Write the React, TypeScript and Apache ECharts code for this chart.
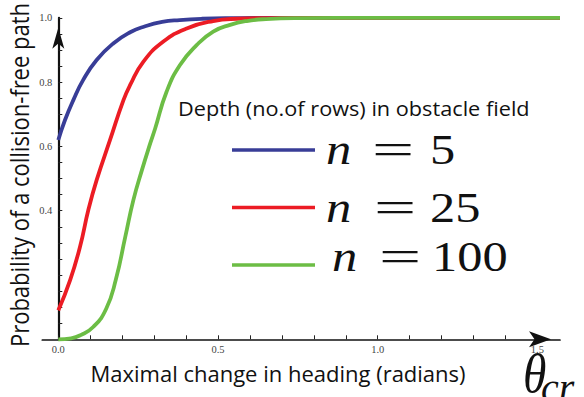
import React, { useEffect, useRef } from "react";
import * as echarts from "echarts";

// ---- data ----
const seriesNames = ["n = 5", "n = 25", "n = 100"];
const seriesValuesOfN = ["5", "25", "100"];
const seriesColors = ["#383d97", "#ec1c24", "#6cbd45"];

const xN5 = [0, 0.021, 0.047, 0.078, 0.12, 0.173, 0.225, 0.27, 0.325, 0.38, 0.45, 0.55, 0.7, 1.0, 1.5708];
const yN5 = [0.62, 0.682, 0.744, 0.807, 0.869, 0.921, 0.955, 0.973, 0.987, 0.993, 0.997, 0.999, 1, 1, 1];

const xN25 = [0, 0.037, 0.068, 0.094, 0.12, 0.162, 0.204, 0.225, 0.266, 0.329, 0.402, 0.485, 0.56, 0.65, 0.8, 1.0, 1.5708];
const yN25 = [0.09, 0.184, 0.288, 0.402, 0.495, 0.62, 0.744, 0.791, 0.863, 0.926, 0.967, 0.99, 0.997, 0.999, 1, 1, 1];

const xN100 = [0, 0.04, 0.07, 0.11, 0.15, 0.18, 0.21, 0.235, 0.262, 0.288, 0.303, 0.339, 0.381, 0.433, 0.485, 0.538, 0.59, 0.65, 0.75, 1.0, 1.5708];
const yN100 = [0, 0.003, 0.013, 0.039, 0.095, 0.185, 0.32, 0.433, 0.527, 0.61, 0.655, 0.77, 0.853, 0.915, 0.957, 0.978, 0.99, 0.996, 0.999, 1, 1];

const xTickValues = [0, 0.1, 0.2, 0.3, 0.4, 0.5, 0.6, 0.7, 0.8, 0.9, 1.0, 1.1, 1.2, 1.3, 1.4, 1.5];
const xLabelValues = [0, 0.5, 1.0, 1.5];
const yTickValues = [0, 0.05, 0.1, 0.15, 0.2, 0.25, 0.3, 0.35, 0.4, 0.45, 0.5, 0.55, 0.6, 0.65, 0.7, 0.75, 0.8, 0.85, 0.9, 0.95, 1.0];
const yLabelValues = [0.4, 0.6, 0.8, 1.0];

const xTitle = "Maximal change in heading (radians)";
const yTitle = "Probability of a collision-free path";
const legendTitle = "Depth (no.of rows) in obstacle field";

const xs = [xN5, xN25, xN100];
const ys = [yN5, yN25, yN100];

// legend label layout (baselines and x starts of the math text pieces)
const labelBaselines = [164, 222, 271];
const labelNX = [326, 326, 332];
const labelEqX = [372, 374, 379];
const labelNumX = [430, 430, 432];

export default function App() {
  const ref = useRef<HTMLDivElement>(null);
  useEffect(() => {
    if (!ref.current) return;
    const chart = echarts.init(ref.current, undefined, { renderer: "svg" });
    const sans = "Open Sans";
    const serif = "Liberation Serif";
    const mid = (baseline: number, fs: number) => baseline - 0.3375 * fs;

    const mathTexts: any[] = [];
    seriesValuesOfN.forEach((num, i) => {
      mathTexts.push({
        type: "text",
        x: labelNX[i],
        y: mid(labelBaselines[i], 44),
        scaleX: 1.15,
        style: { text: "n", font: "italic 44px " + serif, fill: "#111", verticalAlign: "middle", align: "left" },
      });
      mathTexts.push({
        type: "text",
        x: labelEqX[i],
        y: mid(labelBaselines[i], 44),
        scaleX: 1.7,
        style: { text: "=", font: "44px " + serif, fill: "#111", verticalAlign: "middle", align: "left" },
      });
      mathTexts.push({
        type: "text",
        x: labelNumX[i],
        y: mid(labelBaselines[i], 42),
        scaleX: 1.2,
        style: { text: num, font: "42px " + serif, fill: "#111", verticalAlign: "middle", align: "left" },
      });
    });

    const tickLabel = {
      formatter: (v: number) => v.toFixed(1),
      fontFamily: serif,
      fontSize: 10.5,
      color: "#444",
    };

    const option: any = {
      animation: false,
      backgroundColor: "#fff",
      grid: [
        { left: 58.3, right: 24, top: 17.8, bottom: 57.7, containLabel: false, outerBoundsMode: "none" },
        { left: 42.3, right: 24, top: 17.8, bottom: 57.7, containLabel: false, outerBoundsMode: "none" },
      ],
      xAxis: [
        {
          type: "value",
          gridIndex: 0,
          min: 0,
          max: 1.5708,
          splitLine: { show: false },
          axisLine: { show: false },
          axisTick: { show: true, inside: true, length: 4, lineStyle: { color: "#222", width: 1 }, customValues: xTickValues },
          axisLabel: { ...tickLabel, customValues: xLabelValues, margin: 5 },
        },
        {
          type: "value",
          gridIndex: 1,
          min: -0.05,
          max: 1.5708,
          splitLine: { show: false },
          axisTick: { show: false },
          axisLabel: { show: false },
          axisLine: {
            show: true,
            onZero: false,
            lineStyle: { color: "#111", width: 1.7 },
            symbol: ["none", "arrow"],
            symbolSize: [12, 22],
            symbolOffset: [0, -9],
          },
        },
      ],
      yAxis: [
        {
          type: "value",
          gridIndex: 0,
          min: 0,
          max: 1,
          splitLine: { show: false },
          axisLine: {
            show: true,
            onZero: false,
            lineStyle: { color: "#111", width: 2.2 },
            symbol: ["none", "arrow"],
            symbolSize: [9, 21],
            symbolOffset: [0, -10],
          },
          axisTick: { show: true, inside: true, length: 4, lineStyle: { color: "#222", width: 1 }, customValues: yTickValues },
          axisLabel: { ...tickLabel, customValues: yLabelValues, margin: 6 },
        },
        {
          type: "value",
          gridIndex: 1,
          min: 0,
          max: 1,
          show: false,
        },
      ],
      legend: {
        show: true,
        orient: "vertical",
        left: 232,
        top: 148.25,
        padding: 0,
        itemWidth: 83,
        itemHeight: 3.5,
        itemGap: 54,
        icon: "rect",
        selectedMode: false,
        data: seriesNames,
        formatter: () => "",
        textStyle: { fontSize: 1, lineHeight: 1 },
      },
      graphic: [
        {
          type: "text",
          x: 178,
          y: 108,
          scaleX: 1.085,
          style: { text: legendTitle, font: "20px " + sans, fill: "#111", verticalAlign: "middle", align: "left" },
        },
        ...mathTexts,
        {
          type: "text",
          x: 278,
          y: 373,
          style: { text: xTitle, font: "22px " + sans, fill: "#111", verticalAlign: "middle", align: "center" },
        },
        {
          type: "text",
          x: 20,
          y: 175,
          rotation: Math.PI / 2,
          scaleY: 1.12,
          style: { text: yTitle, font: "22px " + sans, fill: "#111", verticalAlign: "middle", align: "center" },
        },
        {
          type: "text",
          x: 523,
          y: mid(392, 56),
          scaleX: 0.85,
          style: { text: "θ", font: "italic 56px " + serif, fill: "#111", verticalAlign: "middle", align: "left" },
        },
        {
          type: "text",
          x: 541,
          y: mid(401, 40),
          style: { text: "cr", font: "italic 40px " + serif, fill: "#111", verticalAlign: "middle", align: "left" },
        },
      ],
      series: seriesNames.map((name, i) => ({
        name,
        type: "line",
        xAxisIndex: 0,
        yAxisIndex: 0,
        data: xs[i].map((x, j) => [x, ys[i][j]]),
        showSymbol: false,
        symbol: "none",
        smooth: 0.5,
        color: seriesColors[i],
        lineStyle: { width: 3.8, color: seriesColors[i] },
        clip: false,
      })),
    };
    chart.setOption(option);
    return () => chart.dispose();
  }, []);
  return (
    <div
      ref={ref}
      style={{ position: "fixed", left: 0, top: 0, width: 584, height: 397, background: "#fff" }}
    />
  );
}
